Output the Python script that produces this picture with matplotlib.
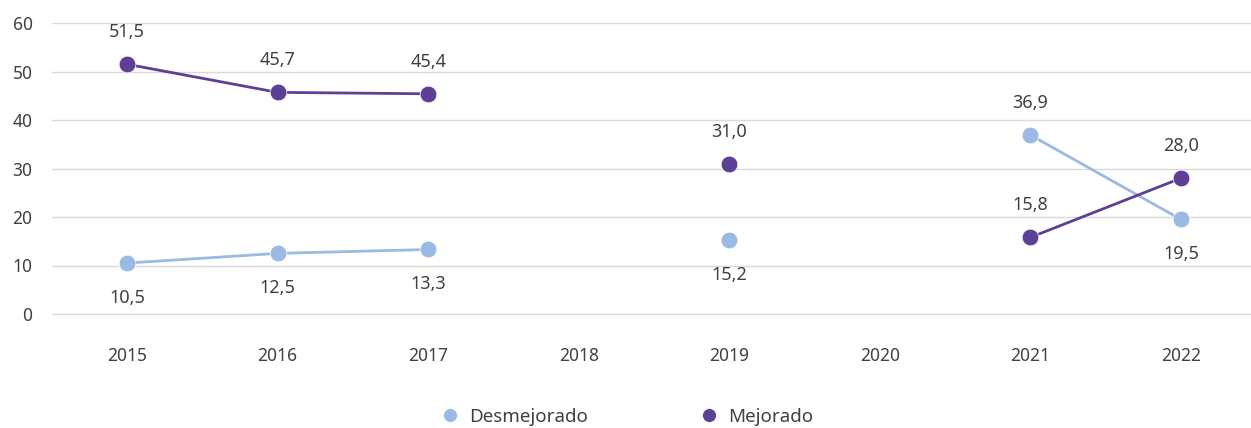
import numpy as np
import matplotlib.pyplot as plt

plt.rcParams['font.family'] = ['Noto Sans', 'DejaVu Sans']

# data
years = ['2015', '2016', '2017', '2018', '2019', '2020', '2021', '2022']
desmejorado = [10.5, 12.5, 13.3, np.nan, 15.2, np.nan, 36.9, 19.5]
mejorado = [51.5, 45.7, 45.4, np.nan, 31.0, np.nan, 15.8, 28.0]
desm_label_above = [False, False, False, False, False, False, True, False]

c_des = '#9BBAE3'
c_mej = '#5E3F96'
txt = '#404040'

fig = plt.figure(figsize=(12.51, 4.28), dpi=100)
ax = fig.add_axes([52/1251, 114/428, 1199/1251, 291/428])

x = np.arange(len(years))
ax.plot(x, desmejorado, '-o', color=c_des, lw=2, ms=12,
        mec='white', mew=0.5, label='Desmejorado', zorder=3)
ax.plot(x, mejorado, '-o', color=c_mej, lw=2, ms=12,
        mec='white', mew=0.5, label='Mejorado', zorder=4)

def fmt(v):
    return f'{v:.1f}'.replace('.', ',')

for i, v in enumerate(desmejorado):
    if np.isnan(v):
        continue
    dy = 23 if desm_label_above[i] else -25
    ax.annotate(fmt(v), (x[i], v), xytext=(0, dy), textcoords='offset points',
                ha='center', va='center', fontsize=13, color=txt)
for i, v in enumerate(mejorado):
    if np.isnan(v):
        continue
    ax.annotate(fmt(v), (x[i], v), xytext=(0, 23), textcoords='offset points',
                ha='center', va='center', fontsize=13, color=txt)

ax.set_xlim(-0.498, 7.465)
ax.set_ylim(0, 60)
ax.set_xticks(x)
ax.set_xticklabels(years)
ax.set_yticks(np.arange(0, 61, 10))
ax.tick_params(axis='both', length=0, labelsize=12.5, colors=txt)
ax.tick_params(axis='x', pad=24)
ax.tick_params(axis='y', pad=14)
ax.grid(axis='y', color='#D9D9D9', lw=1)
ax.set_axisbelow(True)
for s in ['top', 'right', 'left']:
    ax.spines[s].set_visible(False)
ax.spines['bottom'].set_color('#D9D9D9')

leg = fig.legend(loc='center', bbox_to_anchor=(626/1251, 1 - 417/428), ncol=2,
                 frameon=False, fontsize=13.5, columnspacing=5.9,
                 handletextpad=0.4, handlelength=1.2)
for h in leg.legend_handles:
    h.set_linestyle('none')
    h.set_markersize(10)
for t in leg.get_texts():
    t.set_color(txt)

fig.savefig('out.png', dpi=100)
